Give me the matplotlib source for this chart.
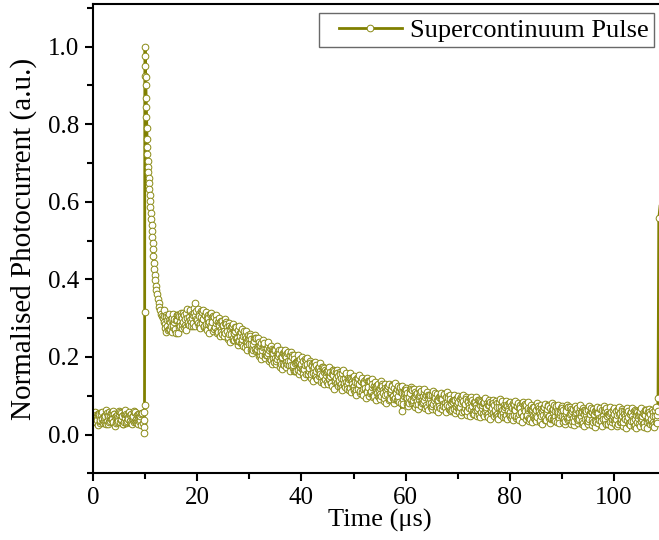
import numpy as np
import matplotlib
matplotlib.use("Agg")
import matplotlib.pyplot as plt
from matplotlib.legend_handler import HandlerLine2D

plt.rcParams['font.family'] = ['Liberation Serif', 'DejaVu Serif']

# ---------------- data ----------------
t_step = 0.25

# baseline before the pulse: samples at t = 0, 0.25, ... plus interleaved sets at +0.125 and +0.0625
y_base = [0.045, 0.032, 0.051, 0.038, 0.047, 0.029, 0.055, 0.041, 0.036, 0.049,
          0.027, 0.044, 0.058, 0.035, 0.042, 0.031, 0.052, 0.046, 0.033, 0.039,
          0.061, 0.037, 0.048, 0.028, 0.043, 0.054, 0.034, 0.040, 0.050, 0.030,
          0.045, 0.057, 0.036, 0.041, 0.026, 0.048, 0.038, 0.053, 0.030]
y_base_b = [0.034, 0.057, 0.047, 0.025, 0.054, 0.037, 0.059, 0.030, 0.045, 0.062,
            0.036, 0.028, 0.051, 0.056, 0.039, 0.060, 0.023, 0.049, 0.042, 0.053,
            0.059, 0.040, 0.026, 0.052, 0.063, 0.032, 0.044, 0.057, 0.035, 0.027,
            0.048, 0.061, 0.031, 0.050, 0.041, 0.054, 0.024, 0.056]
y_base_c = [0.054, 0.034, 0.031, 0.052, 0.056, 0.036, 0.054, 0.032, 0.048, 0.030,
            0.055, 0.051, 0.033, 0.039, 0.055, 0.032, 0.053, 0.030, 0.050, 0.034,
            0.033, 0.056, 0.049, 0.031, 0.053, 0.029, 0.051, 0.055, 0.035, 0.053,
            0.037, 0.031, 0.057, 0.036, 0.054, 0.034, 0.047, 0.055]

# rising edge and fast decay of the pulse
t_spike = [9.72, 9.75, 9.78, 9.81, 9.84, 9.87, 9.90, 9.94, 9.98, 10.02,
           10.06, 10.10, 10.14, 10.18, 10.22, 10.26, 10.30, 10.35, 10.40, 10.46,
           10.52, 10.58, 10.64, 10.70, 10.77, 10.84, 10.91, 10.98, 11.05, 11.12,
           11.19, 11.26, 11.33, 11.40, 11.48, 11.56, 11.64, 11.72, 11.80, 11.90,
           12.00, 12.12, 12.25, 12.40, 12.55, 12.70, 12.85, 13.00, 13.15, 13.30]
y_spike = [0.020, 0.003, 0.038, 0.058, 0.076, 0.315, 0.925, 1.000, 0.975, 0.950,
           0.922, 0.900, 0.868, 0.845, 0.818, 0.790, 0.762, 0.742, 0.722, 0.705,
           0.690, 0.676, 0.662, 0.648, 0.632, 0.618, 0.602, 0.586, 0.570, 0.556,
           0.541, 0.526, 0.510, 0.494, 0.478, 0.460, 0.442, 0.428, 0.412, 0.398,
           0.384, 0.372, 0.362, 0.350, 0.338, 0.329, 0.320, 0.312, 0.306, 0.300]

# slow tail: samples at t = 13.5, 13.75, ... (y_main), interleaved at +0.125 (y_main_b)
# and at +0.0625 (y_main_c)
t_main_start = 13.5
y_main = [
    0.306, 0.284, 0.302, 0.281, 0.272, 0.290,
    0.297, 0.278, 0.289, 0.272, 0.295, 0.307, 0.286, 0.280, 0.301, 0.291,
    0.308, 0.278, 0.301, 0.291, 0.318, 0.290, 0.301, 0.288, 0.340, 0.299,
    0.296, 0.311, 0.285, 0.303, 0.298, 0.276, 0.307, 0.285, 0.307, 0.289,
    0.279, 0.296, 0.305, 0.273, 0.288, 0.267, 0.291, 0.283, 0.271, 0.293,
    0.283, 0.262, 0.289, 0.267, 0.259, 0.271, 0.276, 0.244, 0.261, 0.268,
    0.250, 0.270, 0.242, 0.254, 0.235, 0.255, 0.266, 0.238, 0.231, 0.245,
    0.234, 0.246, 0.221, 0.233, 0.221, 0.249, 0.221, 0.230, 0.206, 0.236,
    0.218, 0.227, 0.205, 0.211, 0.231, 0.218, 0.195, 0.211, 0.198, 0.217,
    0.218, 0.194, 0.203, 0.208, 0.182, 0.200, 0.183, 0.213, 0.200, 0.181,
    0.189, 0.204, 0.180, 0.199, 0.165, 0.185, 0.188, 0.166, 0.190, 0.173,
    0.183, 0.166, 0.169, 0.194, 0.180, 0.157, 0.172, 0.157, 0.182, 0.159,
    0.174, 0.164, 0.144, 0.172, 0.164, 0.149, 0.153, 0.172, 0.142, 0.160,
    0.163, 0.142, 0.152, 0.133, 0.154, 0.164, 0.141, 0.133, 0.152, 0.140,
    0.155, 0.123, 0.144, 0.132, 0.157, 0.127, 0.136, 0.121, 0.143, 0.129,
    0.125, 0.140, 0.114, 0.133, 0.129, 0.107, 0.138, 0.117, 0.139, 0.121,
    0.112, 0.129, 0.139, 0.107, 0.122, 0.102, 0.126, 0.119, 0.107, 0.129,
    0.120, 0.100, 0.129, 0.108, 0.101, 0.115, 0.121, 0.090, 0.109, 0.117,
    0.100, 0.121, 0.094, 0.107, 0.090, 0.111, 0.123, 0.060, 0.091, 0.106,
    0.096, 0.108, 0.085, 0.098, 0.088, 0.116, 0.090, 0.100, 0.078, 0.108,
    0.092, 0.102, 0.082, 0.088, 0.110, 0.098, 0.076, 0.093, 0.082, 0.101,
    0.103, 0.079, 0.090, 0.095, 0.070, 0.089, 0.073, 0.103, 0.092, 0.073,
    0.082, 0.098, 0.075, 0.094, 0.062, 0.082, 0.086, 0.065, 0.090, 0.073,
    0.083, 0.067, 0.071, 0.097, 0.084, 0.061, 0.078, 0.063, 0.089, 0.068,
    0.083, 0.074, 0.054, 0.084, 0.077, 0.062, 0.068, 0.087, 0.058, 0.077,
    0.081, 0.061, 0.071, 0.053, 0.075, 0.085, 0.063, 0.056, 0.075, 0.064,
    0.080, 0.048, 0.070, 0.059, 0.084, 0.055, 0.065, 0.050, 0.073, 0.060,
    0.057, 0.073, 0.048, 0.067, 0.063, 0.042, 0.073, 0.053, 0.076, 0.059,
    0.049, 0.067, 0.078, 0.047, 0.062, 0.042, 0.067, 0.061, 0.049, 0.072,
    0.064, 0.045, 0.073, 0.053, 0.047, 0.061, 0.067, 0.037, 0.056, 0.065,
    0.048, 0.069, 0.043, 0.057, 0.039, 0.061, 0.074, 0.048, 0.042, 0.058,
    0.049, 0.062, 0.039, 0.053, 0.042, 0.071, 0.045, 0.056, 0.034, 0.065,
    0.048, 0.059, 0.039, 0.046, 0.068, 0.057, 0.034, 0.052, 0.041, 0.061,
    0.064, 0.041, 0.052, 0.057, 0.032, 0.052, 0.036, 0.067, 0.055, 0.037,
    0.046, 0.063, 0.040, 0.060, 0.027, 0.048, 0.052, 0.032, 0.057, 0.041,
    0.052, 0.036, 0.041, 0.067, 0.053, 0.031, 0.048, 0.034, 0.060, 0.039,
    0.055, 0.046, 0.027, 0.057, 0.049, 0.035, 0.041, 0.061, 0.032, 0.051,
    0.056, 0.036, 0.047, 0.029, 0.051, 0.062, 0.040, 0.033, 0.052, 0.041,
    0.057, 0.026, 0.048, 0.037]
y_main_b = [
    0.289, 0.308, 0.294, 0.269, 0.296, 0.279,
    0.301, 0.283, 0.269, 0.296, 0.308, 0.278, 0.291, 0.305, 0.284, 0.277,
    0.299, 0.313, 0.284, 0.304, 0.296, 0.310, 0.281, 0.314, 0.306, 0.293,
    0.287, 0.306, 0.318, 0.287, 0.299, 0.308, 0.278, 0.300, 0.286, 0.311,
    0.277, 0.290, 0.303, 0.277, 0.295, 0.265, 0.286, 0.289, 0.264, 0.279,
    0.267, 0.288, 0.276, 0.252, 0.279, 0.260, 0.280, 0.249, 0.262, 0.277,
    0.249, 0.240, 0.261, 0.264, 0.245, 0.264, 0.225, 0.249, 0.240, 0.249,
    0.253, 0.233, 0.217, 0.241, 0.250, 0.218, 0.228, 0.239, 0.215, 0.206,
    0.225, 0.236, 0.204, 0.222, 0.211, 0.222, 0.191, 0.221, 0.210, 0.196,
    0.189, 0.208, 0.219, 0.189, 0.201, 0.209, 0.179, 0.202, 0.187, 0.212,
    0.178, 0.190, 0.204, 0.178, 0.195, 0.165, 0.186, 0.189, 0.164, 0.179,
    0.168, 0.190, 0.178, 0.155, 0.183, 0.165, 0.185, 0.155, 0.169, 0.184,
    0.157, 0.148, 0.170, 0.173, 0.155, 0.175, 0.136, 0.161, 0.153, 0.163,
    0.167, 0.147, 0.132, 0.157, 0.167, 0.135, 0.146, 0.158, 0.135, 0.126,
    0.146, 0.158, 0.127, 0.145, 0.135, 0.147, 0.116, 0.147, 0.137, 0.123,
    0.116, 0.135, 0.147, 0.117, 0.130, 0.139, 0.109, 0.132, 0.118, 0.143,
    0.110, 0.123, 0.137, 0.111, 0.129, 0.100, 0.121, 0.125, 0.100, 0.115,
    0.104, 0.126, 0.116, 0.093, 0.121, 0.104, 0.125, 0.095, 0.110, 0.126,
    0.099, 0.091, 0.113, 0.117, 0.100, 0.120, 0.082, 0.108, 0.100, 0.110,
    0.115, 0.095, 0.081, 0.106, 0.117, 0.085, 0.097, 0.109, 0.087, 0.078,
    0.099, 0.111, 0.081, 0.099, 0.090, 0.102, 0.072, 0.103, 0.094, 0.080,
    0.074, 0.093, 0.106, 0.076, 0.089, 0.098, 0.069, 0.092, 0.079, 0.104,
    0.071, 0.084, 0.099, 0.073, 0.092, 0.062, 0.084, 0.088, 0.064, 0.079,
    0.068, 0.091, 0.080, 0.058, 0.087, 0.069, 0.091, 0.061, 0.076, 0.093,
    0.066, 0.058, 0.080, 0.085, 0.068, 0.088, 0.051, 0.076, 0.069, 0.080,
    0.085, 0.066, 0.051, 0.077, 0.088, 0.056, 0.068, 0.081, 0.058, 0.050,
    0.071, 0.083, 0.053, 0.072, 0.062, 0.075, 0.045, 0.076, 0.067, 0.054,
    0.048, 0.068, 0.081, 0.051, 0.064, 0.074, 0.044, 0.068, 0.055, 0.081,
    0.047, 0.061, 0.076, 0.051, 0.069, 0.040, 0.062, 0.067, 0.042, 0.058,
    0.048, 0.071, 0.060, 0.038, 0.067, 0.050, 0.071, 0.042, 0.057, 0.074,
    0.047, 0.039, 0.062, 0.067, 0.049, 0.070, 0.033, 0.059, 0.051, 0.062,
    0.068, 0.049, 0.035, 0.061, 0.071, 0.040, 0.052, 0.065, 0.043, 0.035,
    0.055, 0.068, 0.038, 0.057, 0.048, 0.061, 0.030, 0.062, 0.053, 0.040,
    0.035, 0.055, 0.068, 0.038, 0.051, 0.061, 0.032, 0.056, 0.042, 0.068,
    0.035, 0.049, 0.064, 0.039, 0.057, 0.028, 0.050, 0.055, 0.031, 0.047,
    0.037, 0.060, 0.050, 0.028, 0.056, 0.039, 0.061, 0.032, 0.047, 0.064,
    0.038, 0.030, 0.053, 0.058, 0.040, 0.061, 0.024, 0.050, 0.043, 0.054,
    0.060, 0.041, 0.027, 0.053, 0.064, 0.033, 0.045, 0.058, 0.036, 0.028,
    0.049, 0.062, 0.032, 0.051]
y_main_c = [
    0.320, 0.275, 0.265, 0.305, 0.311, 0.271,
    0.264, 0.311, 0.298, 0.263, 0.307, 0.261, 0.305, 0.314, 0.275, 0.313,
    0.282, 0.270, 0.323, 0.282, 0.320, 0.280, 0.308, 0.325, 0.279, 0.319,
    0.323, 0.281, 0.274, 0.315, 0.322, 0.281, 0.315, 0.269, 0.300, 0.263,
    0.313, 0.304, 0.266, 0.276, 0.309, 0.261, 0.301, 0.254, 0.292, 0.260,
    0.255, 0.299, 0.284, 0.246, 0.287, 0.238, 0.279, 0.285, 0.243, 0.278,
    0.244, 0.230, 0.280, 0.236, 0.271, 0.228, 0.253, 0.267, 0.218, 0.256,
    0.259, 0.217, 0.209, 0.250, 0.256, 0.215, 0.248, 0.202, 0.232, 0.195,
    0.244, 0.234, 0.196, 0.206, 0.238, 0.189, 0.229, 0.182, 0.219, 0.187,
    0.182, 0.227, 0.212, 0.175, 0.217, 0.168, 0.210, 0.217, 0.175, 0.211,
    0.178, 0.163, 0.214, 0.171, 0.206, 0.164, 0.190, 0.204, 0.156, 0.195,
    0.199, 0.157, 0.149, 0.191, 0.198, 0.157, 0.190, 0.145, 0.176, 0.138,
    0.188, 0.179, 0.142, 0.151, 0.184, 0.136, 0.175, 0.129, 0.167, 0.135,
    0.130, 0.175, 0.161, 0.124, 0.166, 0.118, 0.160, 0.167, 0.126, 0.162,
    0.129, 0.115, 0.166, 0.123, 0.159, 0.117, 0.143, 0.158, 0.110, 0.149,
    0.152, 0.110, 0.103, 0.145, 0.153, 0.112, 0.146, 0.101, 0.132, 0.095,
    0.146, 0.137, 0.100, 0.110, 0.143, 0.096, 0.136, 0.090, 0.128, 0.096,
    0.092, 0.137, 0.124, 0.087, 0.129, 0.082, 0.124, 0.131, 0.091, 0.127,
    0.094, 0.081, 0.132, 0.089, 0.126, 0.084, 0.110, 0.126, 0.078, 0.117,
    0.121, 0.079, 0.073, 0.115, 0.123, 0.082, 0.117, 0.072, 0.104, 0.067,
    0.118, 0.109, 0.073, 0.083, 0.117, 0.069, 0.110, 0.064, 0.103, 0.071,
    0.067, 0.112, 0.099, 0.062, 0.105, 0.057, 0.100, 0.107, 0.067, 0.103,
    0.071, 0.057, 0.109, 0.066, 0.103, 0.061, 0.088, 0.103, 0.056, 0.095,
    0.099, 0.058, 0.051, 0.094, 0.102, 0.061, 0.096, 0.051, 0.083, 0.047,
    0.097, 0.089, 0.052, 0.063, 0.097, 0.049, 0.090, 0.044, 0.083, 0.052,
    0.048, 0.094, 0.080, 0.044, 0.087, 0.039, 0.082, 0.090, 0.049, 0.086,
    0.054, 0.040, 0.092, 0.050, 0.086, 0.045, 0.072, 0.087, 0.040, 0.080,
    0.084, 0.043, 0.037, 0.079, 0.087, 0.047, 0.081, 0.037, 0.069, 0.033,
    0.083, 0.075, 0.039, 0.050, 0.083, 0.036, 0.077, 0.032, 0.070, 0.039,
    0.036, 0.082, 0.068, 0.032, 0.075, 0.028, 0.070, 0.078, 0.038, 0.075,
    0.042, 0.029, 0.081, 0.039, 0.075, 0.034, 0.061, 0.077, 0.029, 0.069,
    0.074, 0.033, 0.027, 0.070, 0.077, 0.037, 0.072, 0.028, 0.060, 0.024,
    0.074, 0.066, 0.030, 0.041, 0.075, 0.028, 0.068, 0.023, 0.062, 0.031,
    0.028, 0.074, 0.061, 0.024, 0.067, 0.020, 0.063, 0.071, 0.030, 0.067,
    0.035, 0.022, 0.074, 0.032, 0.068, 0.027, 0.054, 0.070, 0.023, 0.063,
    0.068, 0.027, 0.021, 0.064, 0.071, 0.031, 0.066, 0.022, 0.054, 0.018,
    0.069, 0.061, 0.025, 0.036, 0.069, 0.022, 0.063, 0.018, 0.057, 0.026,
    0.023, 0.069, 0.056, 0.020, 0.063, 0.016, 0.059, 0.067, 0.027, 0.064,
    0.032, 0.019, 0.071, 0.029]

# rising edge of the next pulse at the right border (mostly outside the picture)
t_next = [108.42, 108.52, 108.66, 112.00]
y_next = [0.060, 0.095, 0.557, 1.000]

series_label = "Supercontinuum Pulse"
x_label = "Time (μs)"
y_label = "Normalised Photocurrent (a.u.)"
x_ticks = [0, 20, 40, 60, 80, 100]
y_ticks = [0.0, 0.2, 0.4, 0.6, 0.8, 1.0]

# ---------------- assemble (time order) ----------------
t_base = t_step * np.arange(len(y_base))
t_base_b = t_step / 2 + t_step * np.arange(len(y_base_b))
t_base_c = t_step / 4 + t_step * np.arange(len(y_base_c))
t_main = t_main_start + t_step * np.arange(len(y_main))
t_main_b = t_main_start + t_step / 2 + t_step * np.arange(len(y_main_b))
t_main_c = t_main_start + t_step / 4 + t_step * np.arange(len(y_main_c))
t = np.concatenate([t_base, t_base_b, t_base_c, t_spike, t_main, t_main_b, t_main_c, t_next])
y = np.concatenate([y_base, y_base_b, y_base_c, y_spike, y_main, y_main_b, y_main_c, y_next])
order = np.argsort(t, kind='stable')
t, y = t[order], y[order]

color = '#808000'

fig = plt.figure(figsize=(6.59, 5.40), dpi=100)
ax = fig.add_axes([93.3 / 659, 66.7 / 540, 110 * 5.204 / 659, 469.3 / 540])

ax.plot(t, y, '-', color=color, lw=2.0, marker='o', ms=4.8,
        mfc='white', mec='#8a8a14', mew=0.7, label=series_label)

ax.set_xlim(0, 110)
ax.set_ylim(-0.1, 1.11)
ax.set_xticks(x_ticks)
ax.set_yticks(y_ticks)
ax.set_xticklabels([str(v) for v in x_ticks])
ax.set_yticklabels([f"{v:.1f}" for v in y_ticks])
ax.set_xticks([10, 30, 50, 70, 90, 110], minor=True)
ax.set_yticks([-0.1, 0.1, 0.3, 0.5, 0.7, 0.9, 1.1], minor=True)

for s in ax.spines.values():
    s.set_linewidth(1.5)
ax.tick_params(which='both', direction='out', width=1.5, labelsize=18, top=False, right=False)
ax.tick_params(which='major', length=6, pad=4)
ax.tick_params(which='minor', length=4)

ax.set_xlabel(x_label, fontsize=19, labelpad=0)
ax.set_ylabel(y_label, fontsize=21, labelpad=8)

leg = ax.legend(loc='upper right', bbox_to_anchor=(654 / 659, 1 - 13 / 540),
                bbox_transform=fig.transFigure, fontsize=19, frameon=True,
                fancybox=False, handlelength=2.95, borderpad=0.2,
                handletextpad=0.3, borderaxespad=0,
                handler_map={plt.Line2D: HandlerLine2D(xpad=0.55)})
leg.get_frame().set_edgecolor('#444444')
leg.get_frame().set_linewidth(1.0)

fig.savefig('out.png', dpi=100)
